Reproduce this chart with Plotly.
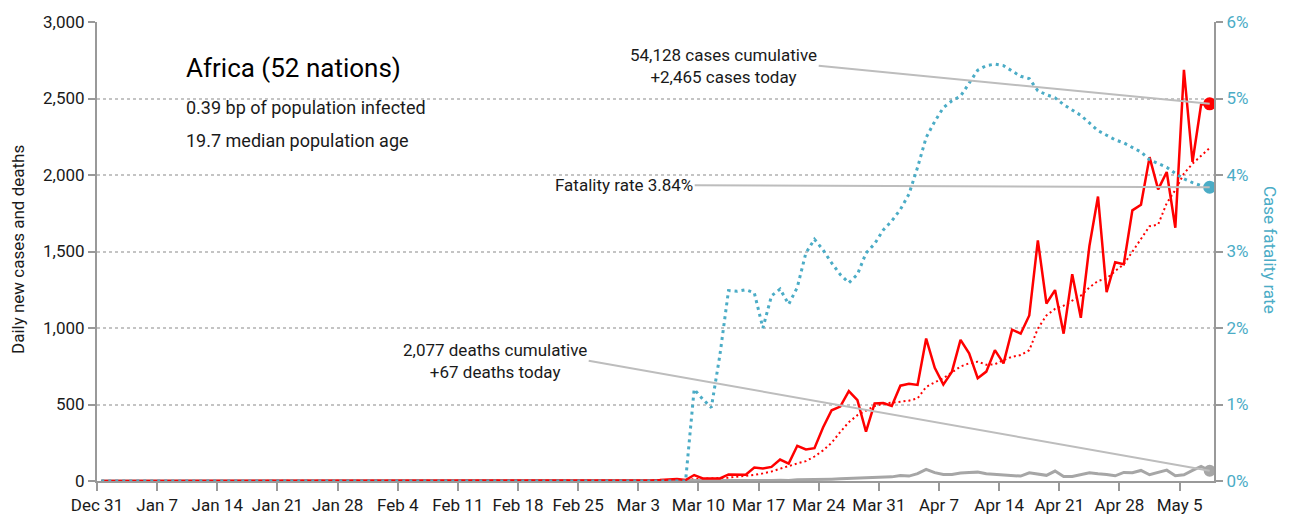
import plotly.graph_objects as go
import pandas as pd

# ---------------- data ----------------
start_date = "2019-12-31 12:00"
n_days = 130

cases_early = [1, 0, 0, 0, 0, 0, 0, 0, 0, 0, 0, 1, 0, 0, 1, 0, 2, 3, 3, 4, 6, 8, 13, 6]  # Feb 14 - Mar 8
cases_late = [39, 17, 17, 17, 43, 43, 41, 88, 82, 92,
              140, 114, 230, 206, 215, 350, 462, 486, 587, 529,
              322, 507, 510, 490, 623, 636, 628, 931, 740, 630,
              715, 922, 834, 672, 715, 855, 769, 989, 963, 1082,
              1573, 1160, 1248, 963, 1352, 1067, 1536, 1859, 1235, 1430,
              1417, 1769, 1805, 2117, 1906, 2020, 1655, 2687, 2085, 2461, 2465]
cases = [0] * 45 + cases_early + cases_late

avg_early = [0.1, 0.1, 0.1, 0.1, 0.1, 0.1, 0.1, 0.0, 0.0, 0.0, 0.0, 0.1, 0.1, 0.1,
             0.3, 0.3, 0.6, 1.0, 1.4, 1.9, 2.7, 3.9, 5.6, 6.1]
avg_late = [12, 14, 15, 17, 22, 28, 33, 40, 50, 62,
            80, 95, 115, 130, 160, 200, 250, 320, 385, 430,
            458, 490, 505, 512, 518, 525, 540, 615, 645, 672,
            710, 748, 769, 780, 760, 763, 791, 812, 823, 855,
            996, 1082, 1125, 1146, 1179, 1211, 1265, 1308, 1323, 1373,
            1416, 1500, 1580, 1665, 1676, 1816, 1902, 2010, 2074, 2128, 2177]
cases_avg = [None] * 7 + [0] * 38 + avg_early + avg_late

deaths_late = [1, 1, 0, 0, 1, 1, 1, 1, 2, 1, 3,
               5, 3, 8, 8, 9, 10, 12, 14, 16, 18,
               20, 23, 25, 27, 36, 32, 48, 76, 55, 42,
               43, 52, 56, 58, 47, 43, 43, 39, 32, 54,
               47, 37, 65, 30, 30, 43, 54, 47, 43, 34,
               56, 54, 69, 41, 56, 71, 34, 41, 69, 95, 67]
deaths = [0] * 68 + deaths_late

cfr_late = [0, 1.20, 1.07, 0.96, 1.65, 2.49, 2.48, 2.50, 2.46, 2.00,
            2.42, 2.51, 2.31, 2.53, 2.98, 3.16, 3.02, 2.85, 2.70, 2.59,
            2.70, 2.98, 3.10, 3.28, 3.40, 3.55, 3.75, 4.10, 4.49, 4.70,
            4.88, 4.97, 5.03, 5.20, 5.37, 5.43, 5.45, 5.43, 5.36, 5.29,
            5.26, 5.10, 5.05, 5.01, 4.92, 4.85, 4.78, 4.68, 4.58, 4.52,
            4.46, 4.42, 4.36, 4.30, 4.20, 4.15, 4.10, 4.02, 3.95, 3.90, 3.86, 3.84]
cfr = [0] * 68 + cfr_late

tick_labels = ["Dec 31", "Jan 7", "Jan 14", "Jan 21", "Jan 28", "Feb 4", "Feb 11", "Feb 18",
               "Feb 25", "Mar 3", "Mar 10", "Mar 17", "Mar 24", "Mar 31", "Apr 7", "Apr 14",
               "Apr 21", "Apr 28", "May 5"]

title_text = "Africa (52 nations)"
subtitle_lines = ["0.39 bp of population infected", "19.7 median population age"]
cases_note = "54,128 cases cumulative<br>+2,465 cases today"
deaths_note = "2,077 deaths cumulative<br>+67 deaths today"
cfr_note = "Fatality rate 3.84%"

# ---------------- styling ----------------
FONT = "Roboto, Liberation Sans, sans-serif"
RED = "#ff0000"
BLUE = "#4bacc6"
GRAY = "#a6a6a6"
AXIS = "#999999"
GRID = "#c4c4c4"
LEAD = "#bdbdbd"
TXT = "#1a1a1a"

dates = pd.date_range(start_date, periods=n_days, freq="D")
tick_vals = pd.date_range("2019-12-31", periods=len(tick_labels), freq="7D")

fig = go.Figure()

fig.add_trace(go.Scatter(x=dates, y=cfr, yaxis="y2", mode="lines",
                         line=dict(color=BLUE, width=3, dash="3px,4px"), hoverinfo="skip"))
fig.add_trace(go.Scatter(x=dates, y=cases_avg, mode="lines",
                         line=dict(color=RED, width=2, dash="2px,3px"), hoverinfo="skip"))
fig.add_trace(go.Scatter(x=dates, y=deaths, mode="lines",
                         line=dict(color=GRAY, width=3), hoverinfo="skip"))
fig.add_trace(go.Scatter(x=dates, y=cases, mode="lines",
                         line=dict(color=RED, width=2.5), hoverinfo="skip"))

# end markers
fig.add_trace(go.Scatter(x=[dates[-1]], y=[cases[-1]], mode="markers",
                         marker=dict(color=RED, size=13), hoverinfo="skip"))
fig.add_trace(go.Scatter(x=[dates[-1]], y=[deaths[-1]], mode="markers",
                         marker=dict(color=GRAY, size=12), hoverinfo="skip"))
fig.add_trace(go.Scatter(x=[dates[-1]], y=[cfr[-1]], yaxis="y2", mode="markers",
                         marker=dict(color=BLUE, size=13), hoverinfo="skip"))

L, R, T, B = 97, 77, 20, 40
W, H = 1291, 527
PW, PH = W - L - R, H - T - B


def px(xp):
    return (xp - L) / PW


def py(yp):
    return (H - B - yp) / PH


annotations = [
    dict(text=title_text, x=px(184), y=py(67), xref="paper", yref="paper",
         xanchor="left", yanchor="middle", showarrow=False,
         font=dict(family=FONT, size=26, color="#000000")),
    dict(text=subtitle_lines[0], x=px(184), y=py(107), xref="paper", yref="paper",
         xanchor="left", yanchor="middle", showarrow=False,
         font=dict(family=FONT, size=18, color=TXT)),
    dict(text=subtitle_lines[1], x=px(184), y=py(141), xref="paper", yref="paper",
         xanchor="left", yanchor="middle", showarrow=False,
         font=dict(family=FONT, size=18, color=TXT)),
    # leader-line notes
    dict(text=cases_note, x=dates[-1], y=cases[-1], xref="x", yref="y",
         showarrow=True, arrowhead=0, arrowwidth=2, arrowcolor=LEAD,
         ax=-391, ay=-38, axref="pixel", ayref="pixel",
         xanchor="right", yanchor="middle", align="center", standoff=0,
         font=dict(family=FONT, size=17, color=TXT)),
    dict(text=cfr_note, x=dates[-1], y=cfr[-1], xref="x", yref="y2",
         showarrow=True, arrowhead=0, arrowwidth=2, arrowcolor=LEAD,
         ax=-515, ay=-2, axref="pixel", ayref="pixel",
         xanchor="right", yanchor="middle", align="right", standoff=0,
         font=dict(family=FONT, size=17, color=TXT)),
    dict(text=deaths_note, x=dates[-1], y=deaths[-1], xref="x", yref="y",
         showarrow=True, arrowhead=0, arrowwidth=2, arrowcolor=LEAD,
         ax=-621, ay=-110, axref="pixel", ayref="pixel",
         xanchor="right", yanchor="middle", align="center", standoff=0,
         font=dict(family=FONT, size=17, color=TXT)),
    # axis titles
    dict(text="Daily new cases and deaths", x=px(18), y=py(252), xref="paper", yref="paper",
         xanchor="center", yanchor="middle", showarrow=False, textangle=-90,
         font=dict(family=FONT, size=17, color=TXT)),
    dict(text="Case fatality rate", x=px(1270), y=py(252), xref="paper", yref="paper",
         xanchor="center", yanchor="middle", showarrow=False, textangle=90,
         font=dict(family=FONT, size=17, color=BLUE)),
]

fig.update_layout(
    width=W, height=H,
    margin=dict(l=L, r=R, t=T, b=B, pad=0),
    paper_bgcolor="white", plot_bgcolor="white",
    showlegend=False,
    font=dict(family=FONT, size=17, color=TXT),
    xaxis=dict(
        type="date", range=["2019-12-31", "2020-05-09"],
        tickvals=tick_vals, ticktext=tick_labels,
        ticks="outside", ticklen=8, tickwidth=2, tickcolor=AXIS,
        showline=True, linecolor=AXIS, linewidth=2,
        showgrid=False, zeroline=False,
        tickfont=dict(family=FONT, size=17, color=TXT),
    ),
    yaxis=dict(
        range=[0, 3000], dtick=500, tickformat=",",
        ticks="outside", ticklen=7, tickwidth=2, tickcolor=AXIS,
        showline=True, linecolor=AXIS, linewidth=2,
        showgrid=True, gridcolor=GRID, gridwidth=1.5, griddash="dot",
        zeroline=False,
        tickfont=dict(family=FONT, size=17, color=TXT),
    ),
    yaxis2=dict(
        overlaying="y", side="right", range=[0, 6], dtick=1, ticksuffix="%",
        ticks="outside", ticklen=7, tickwidth=2, tickcolor=AXIS,
        showline=True, linecolor=AXIS, linewidth=2,
        showgrid=False, zeroline=False,
        tickfont=dict(family=FONT, size=17, color=BLUE),
    ),
    annotations=annotations,
)

fig.write_html("out.html", config={"displayModeBar": False},
               post_script="document.body.style.margin='0';")
